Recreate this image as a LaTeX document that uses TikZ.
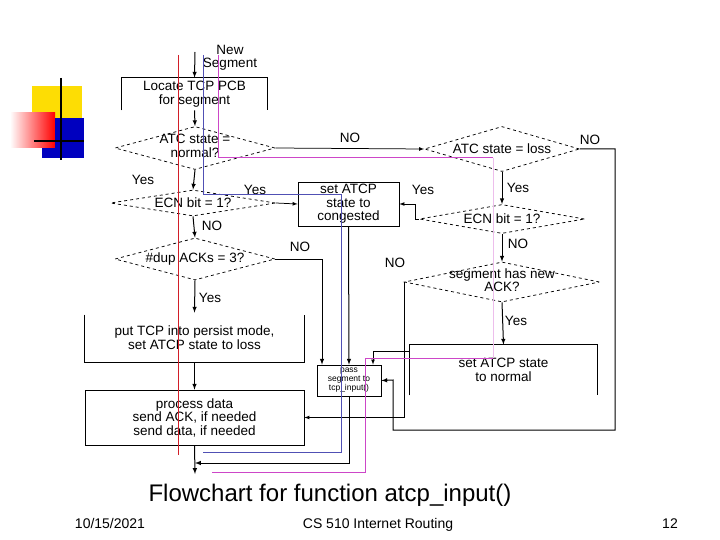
\documentclass[tikz,border=0pt]{standalone}
\usepackage{fontspec}
\setmainfont{Liberation Sans}
\usetikzlibrary{shapes.geometric}

\definecolor{ovred}{RGB}{210,30,40}
\definecolor{ovblue}{RGB}{80,80,180}
\definecolor{ovpink}{RGB}{205,70,200}

\tikzset{every picture/.style={line width=0.75pt}}
\tikzset{
  dia/.style={diamond, draw, dashed, inner sep=0pt},
  box/.style={rectangle, inner sep=0pt, align=center, font=\fontsize{13.5}{13.5}\selectfont},
  txt/.style={inner sep=0pt, align=center, font=\fontsize{13.5}{13.5}\selectfont},
  foot/.style={inner sep=0pt, anchor=base, font=\fontsize{14}{16}\selectfont},
  flow/.style={-latex, line width=1pt},
}

\begin{document}
\begin{tikzpicture}[x=1pt,y=-1pt]
\useasboundingbox (0,0) rectangle (720,540);

% logo
\fill[yellow!80!orange] (32,86) rectangle (82,118);
\shade[left color=white, right color=red] (10,113) rectangle (55,148);
\fill[blue!75!black] (55,118) rectangle (84,158);
\fill[blue!75!black] (42,148) rectangle (55,158);
\draw[line width=2.5pt] (61,78) -- (61,160);
\draw[line width=2.5pt] (34,141) -- (84,141);

% Text Nodes
\node[txt] (newseg) at (230,58) {New\\Segment};
\coordinate (in) at (195,52);
\node[box, minimum width=145, minimum height=32] (locate) at (194.5,94) {Locate TCP PCB\\for segment};
\node[dia, minimum width=160, minimum height=43, label={center:\fontsize{13.5}{13.5}\selectfont\begin{tabular}{@{}c@{}}ATC state =\\normal?\end{tabular}}] (normq) at (195,148) {};
\node[dia, minimum width=155, minimum height=45, label={center:\fontsize{13.5}{13.5}\selectfont ATC state = loss}] (lossq) at (502,149) {};
\node[dia, minimum width=165, minimum height=26, label={center:\fontsize{13.5}{13.5}\selectfont ECN bit = 1?}] (ecna) at (193,203) {};
\node[box, draw, minimum width=101, minimum height=44] (cong) at (348.5,204) {set ATCP\\state to\\congested};
\node[dia, minimum width=165, minimum height=29, label={center:\fontsize{13.5}{13.5}\selectfont ECN bit = 1?}] (ecnb) at (502,219) {};
\node[dia, minimum width=160, minimum height=42, label={center:\fontsize{13.5}{13.5}\selectfont \#dup ACKs = 3?}] (dupq) at (195,259) {};
\node[dia, minimum width=195, minimum height=40, label={center:\fontsize{13.5}{13.5}\selectfont\begin{tabular}{@{}c@{}}segment has new\\ACK?\end{tabular}}] (ackq) at (502,282) {};
\node[box, minimum width=219, minimum height=49] (persist) at (194.5,337.5) {put TCP into persist mode,\\set ATCP state to loss};
\node[box, draw, minimum width=219, minimum height=55] (proc) at (194.5,417.5) {process data\\send ACK, if needed\\send data, if needed};
\node[box, draw, minimum width=64, minimum height=31, font=\fontsize{8.5}{9}\selectfont] (tcp) at (349,380.5) {pass\\segment to\\tcp\_input()};
\node[box, minimum width=187, minimum height=50] (norm) at (503.5,370) {set ATCP state\\to normal};

% open box sides
\draw (locate.south west) -- (locate.north west) -- (locate.north east) -- (locate.south east);
\draw ([yshift=-2]persist.north west) -- (persist.south west) -- (persist.south east) -- ([yshift=-2]persist.north east);
\draw (norm.south west) -- (norm.north west) -- (norm.north east) -- (norm.south east);

% Connectors
\coordinate (rside) at (615,430);
\coordinate (loop) at (393,380);
\coordinate (out) at (195,463);
\coordinate (fin) at (195,474);
\draw[flow] (in) -- (locate.north);
\draw[flow] (locate.south) -- (normq.north);
\draw[flow, line width=0.75pt] (normq.east) -- (lossq.west);
\draw[flow] (normq.south) -- (ecna.north);
\draw[flow, line width=0.75pt] (ecna.east) -- (cong.west);
\draw[flow] (ecna.south) -- (dupq.north);
\draw[flow] (dupq.east) -| ([xshift=-27]tcp.north);
\draw[flow] (dupq.south) -- (persist.north);
\draw[flow] (persist.south) -- (proc.north);
\draw[flow] (proc.south) -- (fin);
\draw[flow] (cong.south) -- (tcp.north);
\draw[flow] (lossq.south) -- (ecnb.north);
\draw[flow, line width=0.75pt] (ecnb.west) -- ++(-4,0) |- (cong.east);
\draw[flow] (ecnb.south) -- (ackq.north);
\draw[flow] (ackq.south) -- (norm.north);
\draw[flow, line width=0.75pt] (ackq.west) |- (proc.east);
\draw[flow] (lossq.east) -| (rside) -| (loop) -- (tcp.east);
\draw[flow, line width=0.75pt] ([yshift=-7]norm.north west) -| ([xshift=24]tcp.north);
\draw[flow] (tcp.south) |- (out);

% labels
\node[txt] (l1) at (350,138) {NO};
\node[txt] (l2) at (590,140) {NO};
\node[txt] (l3) at (143,180) {Yes};
\node[txt] (l4) at (255,190) {Yes};
\node[txt] (l5) at (423,190) {Yes};
\node[txt] (l6) at (518,188) {Yes};
\node[txt] (l7) at (212,226) {NO};
\node[txt] (l8) at (518,244) {NO};
\node[txt] (l9) at (300,247) {NO};
\node[txt] (l10) at (395,263) {NO};
\node[txt] (l11) at (210,298) {Yes};
\node[txt] (l12) at (516,321) {Yes};

% overlay lines
\draw[ovred, line width=1pt] (178,55) -- (178,455);
\draw[ovblue, line width=1pt] (203,55) -- (203,195) -- (341,195) -- (341,452) -- (203,452);
\draw[ovpink, line width=1pt] (218,55) -- (218,158) -- (493,158);
\draw[ovpink!35, line width=0.5pt] (493,158) -- (493,358);
\draw[ovpink, line width=1pt] (493,358) -- (365,358) -- (365,472) -- (212,472);

% caption and footer
\node[inner sep=0pt, font=\fontsize{24}{26}\selectfont] (cap) at (330,495) {Flowchart for function atcp\_input()};
\node[foot] (date) at (110,528) {10/15/2021};
\node[foot] (course) at (378,528) {CS 510 Internet Routing};
\node[foot] (page) at (670,528) {12};
\end{tikzpicture}
\end{document}
